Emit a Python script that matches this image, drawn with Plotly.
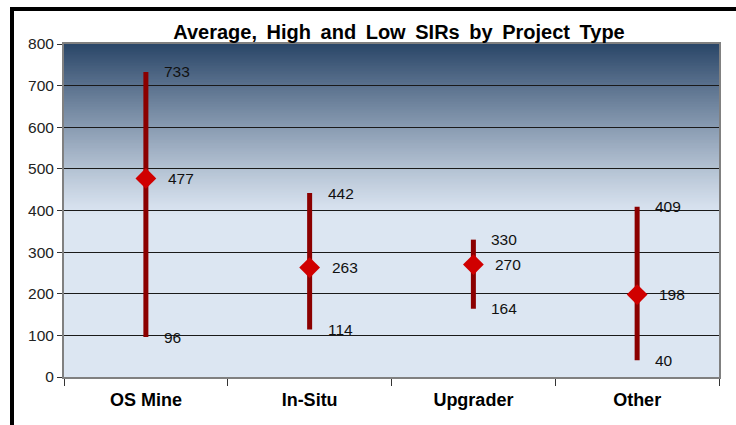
import plotly.graph_objects as go

categories = ["OS Mine", "In-Situ", "Upgrader", "Other"]
high_vals = [733, 442, 330, 409]
avg_vals = [477, 263, 270, 198]
low_vals = [96, 114, 164, 40]
y_ticks = [0, 100, 200, 300, 400, 500, 600, 700, 800]
title_text = "Average, High and Low SIRs by Project Type"

FONT = "Liberation Sans, Arial, sans-serif"

fig = go.Figure()

# high-low lines
xs, ys = [], []
for c, lo, hi in zip(categories, low_vals, high_vals):
    xs += [c, c, None]
    ys += [lo, hi, None]
fig.add_trace(go.Scatter(x=xs, y=ys, mode="lines",
                         line=dict(color="#8B0000", width=5),
                         hoverinfo="skip", showlegend=False))

# average diamonds
fig.add_trace(go.Scatter(x=categories, y=avg_vals, mode="markers",
                         marker=dict(symbol="diamond", size=16, color="#D00000",
                                     line=dict(width=0)),
                         showlegend=False))

annotations = []
for c, hi, av, lo in zip(categories, high_vals, avg_vals, low_vals):
    for v, sh in ((hi, 16), (av, 20), (lo, 16)):
        annotations.append(dict(x=c, y=v, xref="x", yref="y", text=str(v),
                                showarrow=False, xanchor="left", yanchor="middle",
                                xshift=sh, font=dict(family=FONT, size=15.5, color="#111")))

# gradient background (decoration): overlapping bands, bottom to top
shapes = []
top = (42, 70, 104)
bot = (220, 230, 242)
y0, y1 = 385, 800
N = 110
for i in range(N):
    a = y0 + (y1 - y0) * i / N
    t = (i + 0.5) / N
    t = t ** 1.15
    col = tuple(round(bot[k] + (top[k] - bot[k]) * t) for k in range(3))
    shapes.append(dict(type="rect", xref="paper", yref="y", x0=0, x1=1, y0=a, y1=y1,
                       fillcolor="rgb(%d,%d,%d)" % col, line=dict(width=0), layer="below"))

# outer frame (top and left black lines)
W, H = 736, 425
L, R, T, B = 64, 17, 44, 48
pw, ph = W - L - R, H - T - B
def px(x):
    return (x - L) / pw
def py(y):
    return (H - B - y) / ph
shapes.append(dict(type="line", xref="paper", yref="paper",
                   x0=px(10), x1=px(736), y0=py(9), y1=py(9),
                   line=dict(color="black", width=4)))
shapes.append(dict(type="line", xref="paper", yref="paper",
                   x0=px(12), x1=px(12), y0=py(7), y1=py(425),
                   line=dict(color="black", width=4)))

fig.update_layout(
    width=W, height=H,
    margin=dict(l=L, r=R, t=T, b=B),
    paper_bgcolor="white",
    plot_bgcolor="rgb(220,230,242)",
    title=dict(text="<b>" + " \u2009".join(title_text.split(" ")) + "</b>",
               x=399 / W, xref="container", xanchor="center",
               y=1 - 32 / H, yref="container", yanchor="middle",
               font=dict(family=FONT, size=20, color="black")),
    xaxis=dict(type="category", categoryorder="array", categoryarray=categories,
               range=[-0.5, 3.5], tickson="boundaries", ticks="outside", ticklen=7,
               tickcolor="#333", showgrid=False, showline=True, linecolor="#808080",
               linewidth=2, mirror=True, ticklabelstandoff=5,
               tickfont=dict(family=FONT, size=18, color="black"),
               tickprefix="<b>", ticksuffix="</b>"),
    yaxis=dict(range=[0, 800], tickvals=y_ticks, ticks="outside", ticklen=5,
               tickcolor="#333", showgrid=True, gridcolor="#1a1a1a", gridwidth=1,
               showline=True, linecolor="#808080", linewidth=2, mirror=True,
               zeroline=False,
               tickfont=dict(family=FONT, size=15.5, color="#222")),
    shapes=shapes,
    annotations=annotations,
    font=dict(family=FONT),
)

fig.write_html("out.html", config={"displayModeBar": False},
               post_script="document.body.style.margin='0';")
